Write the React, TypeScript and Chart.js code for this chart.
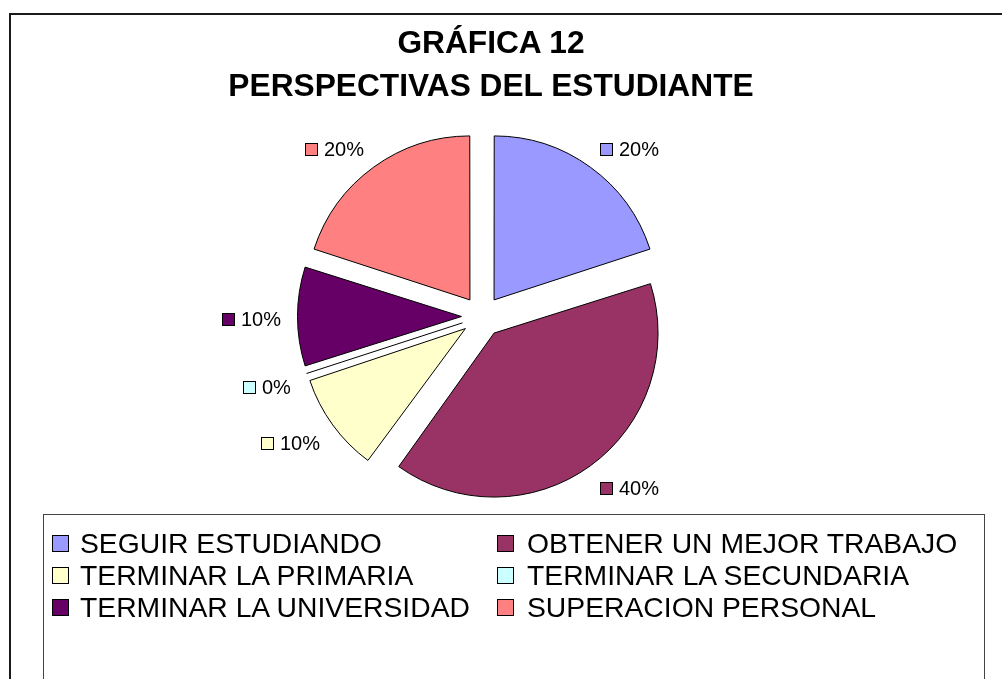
import React, { useEffect, useRef } from "react";
import { Chart, registerables } from "chart.js";

Chart.register(...registerables);

const TITLE_LINES = ["GRÁFICA 12", "PERSPECTIVAS DEL ESTUDIANTE"];
const CATEGORIES = [
  "SEGUIR ESTUDIANDO",
  "OBTENER UN MEJOR TRABAJO",
  "TERMINAR LA PRIMARIA",
  "TERMINAR LA SECUNDARIA",
  "TERMINAR LA UNIVERSIDAD",
  "SUPERACION PERSONAL",
];
const VALUES = [20, 40, 10, 0, 10, 20];
const COLORS = ["#9999FF", "#993366", "#FFFFCC", "#CCFFFF", "#660066", "#FF8080"];

const FONT = '"Liberation Sans", Arial, Helvetica, sans-serif';
const RADIUS = 164;
const EXPLODE = 82; // Chart.js translates by offset / 4

const evenRadiusPlugin = {
  id: "evenRadius",
  afterDatasetUpdate(chart: any, args: any) {
    const meta = args.meta;
    meta.data.forEach((el: any) => {
      const t = EXPLODE / 4;
      const circ = el.circumference || 0;
      const fix = 1 - Math.sin(Math.min(Math.PI, circ));
      el.outerRadius = el.outerRadius - t * fix;
    });
  },
};

const labelsPlugin = {
  id: "sliceLabels",
  afterDatasetsDraw(chart: any) {
    const ctx = chart.ctx;
    const meta = chart.getDatasetMeta(0);
    const total = VALUES.reduce((a, b) => a + b, 0);
    const t = EXPLODE / 4;
    ctx.save();
    // zero-value slices drawn as a line
    meta.data.forEach((el: any) => {
      if ((el.circumference || 0) === 0) {
        const a = el.startAngle;
        const ox = el.x + Math.cos(a) * t;
        const oy = el.y + Math.sin(a) * t;
        ctx.beginPath();
        ctx.strokeStyle = "#000";
        ctx.lineWidth = 1;
        ctx.moveTo(ox, oy);
        ctx.lineTo(ox + Math.cos(a) * RADIUS, oy + Math.sin(a) * RADIUS);
        ctx.stroke();
      }
    });
    ctx.font = `20px ${FONT}`;
    ctx.textBaseline = "middle";
    ctx.textAlign = "left";
    const clamp = (v: number) => Math.max(-1, Math.min(1, v));
    meta.data.forEach((el: any, i: number) => {
      const mid = (el.startAngle + el.endAngle) / 2;
      const c = Math.cos(mid);
      const s = Math.sin(mid);
      const D = RADIUS + t + 16;
      const ax = el.x + c * D;
      const ay = el.y + s * D;
      const text = Math.round((VALUES[i] / total) * 100) + "%";
      const tw = ctx.measureText(text).width;
      const box = 13;
      const gap = 6;
      const h = 14;
      const w = box + gap + tw;
      const cx = ax + (clamp(3 * c) * w) / 2;
      const cy = ay + (clamp(3 * s) * h) / 2 + 2.5;
      const left = Math.round(cx - w / 2);
      const top = Math.round(cy - box / 2);
      ctx.fillStyle = COLORS[i];
      ctx.fillRect(left + 0.5, top + 0.5, box - 1, box - 1);
      ctx.strokeStyle = "#000";
      ctx.lineWidth = 1;
      ctx.strokeRect(left + 0.5, top + 0.5, box - 1, box - 1);
      ctx.fillStyle = "#000";
      ctx.fillText(text, left + box + gap, cy + 1);
    });
    ctx.restore();
  },
};

export default function App() {
  const ref = useRef<HTMLCanvasElement | null>(null);

  useEffect(() => {
    if (!ref.current) return;
    const chart = new Chart(ref.current, {
      type: "pie",
      data: {
        labels: CATEGORIES,
        datasets: [
          {
            data: VALUES,
            backgroundColor: COLORS,
            borderColor: "#000",
            borderWidth: 1,
            borderJoinStyle: "miter",
            offset: EXPLODE,
            hoverOffset: 0,
          } as any,
        ],
      },
      options: {
        responsive: false,
        maintainAspectRatio: false,
        animation: false,
        events: [],
        radius: RADIUS,
        layout: { padding: { left: 274, right: 312, top: 108.5, bottom: 154.5 } },
        plugins: {
          legend: { display: false },
          title: { display: false },
          tooltip: { enabled: false },
        },
      } as any,
      plugins: [evenRadiusPlugin, labelsPlugin],
    });
    return () => chart.destroy();
  }, []);

  return (
    <div
      style={{
        position: "absolute",
        left: 0,
        top: 0,
        width: 1002,
        height: 679,
        overflow: "hidden",
        background: "#fff",
        fontFamily: FONT,
        color: "#000",
      }}
    >
      <div
        style={{
          position: "absolute",
          left: 9,
          top: 13,
          width: 1100,
          height: 800,
          border: "2px solid #1a1a1a",
        }}
      />
      <canvas
        ref={ref}
        width={1002}
        height={679}
        style={{ position: "absolute", left: 0, top: 0, width: 1002, height: 679 }}
      />
      <div
        style={{
          position: "absolute",
          left: 0,
          top: 21,
          width: 982,
          textAlign: "center",
          fontWeight: "bold",
          fontSize: 31.7,
          lineHeight: "43px",
          whiteSpace: "nowrap",
        }}
      >
        {TITLE_LINES.map((l) => (
          <div key={l}>{l}</div>
        ))}
      </div>
      <div
        style={{
          position: "absolute",
          left: 43,
          top: 514,
          width: 942,
          height: 300,
          boxSizing: "border-box",
          border: "1px solid #444",
        }}
      />
      {CATEGORIES.map((name, i) => {
        const col = i % 2;
        const row = Math.floor(i / 2);
        return (
          <div
            key={name}
            style={{
              position: "absolute",
              left: col ? 497 : 52,
              top: 527 + row * 32,
              height: 32,
              display: "flex",
              alignItems: "center",
              whiteSpace: "nowrap",
              fontSize: 28.3,
              lineHeight: "32px",
            }}
          >
            <span
              style={{
                display: "inline-block",
                width: 17,
                height: 17,
                boxSizing: "border-box",
                border: "1px solid #000",
                background: COLORS[i],
                marginRight: col ? 13 : 11,
              }}
            />
            <span>{name}</span>
          </div>
        );
      })}
    </div>
  );
}
